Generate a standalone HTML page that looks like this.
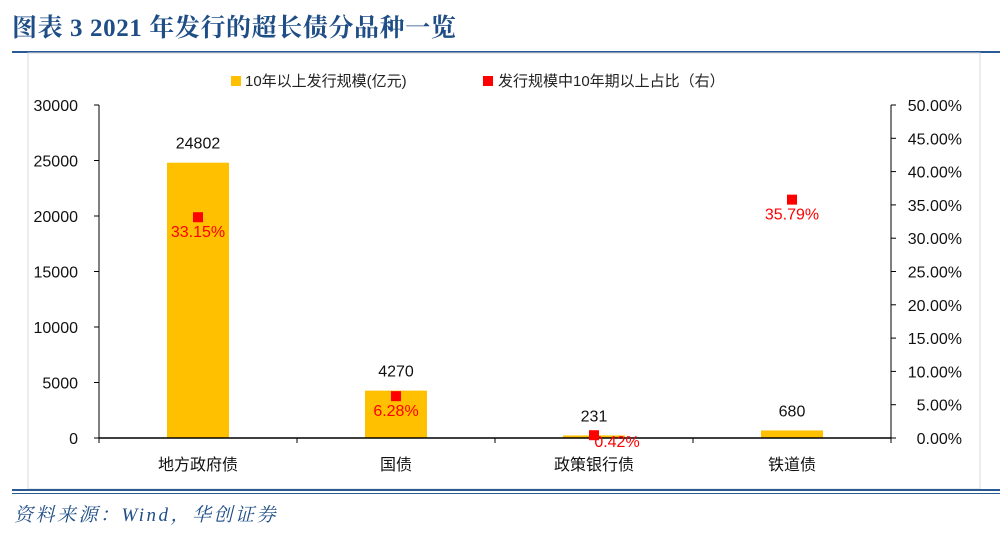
<!DOCTYPE html>
<html><head><meta charset="utf-8"><style>
body{margin:0;background:#fff;width:1000px;height:534px;overflow:hidden;font-family:"Liberation Sans","Noto Sans CJK SC",sans-serif;}
</style></head><body>
<svg width="1000" height="534" xmlns="http://www.w3.org/2000/svg">
<text x="12" y="36" font-family="Liberation Serif,'Noto Serif CJK SC',serif" font-weight="bold" font-size="25" letter-spacing="0.6" fill="#1f4e86">图表 3  2021 年发行的超长债分品种一览</text>
<line x1="12" y1="52" x2="1000" y2="52" stroke="#2a5a96" stroke-width="2"/>
<rect x="28" y="53" width="952" height="436" fill="none" stroke="#d9d9d9"/>
<line x1="12" y1="490" x2="1000" y2="490" stroke="#2a5a96" stroke-width="2"/>
<line x1="12" y1="493.5" x2="1000" y2="493.5" stroke="#2a5a96" stroke-width="1"/>
<text x="14" y="521" font-family="Liberation Serif,'Noto Serif CJK SC',serif" font-style="italic" font-size="19" letter-spacing="2.5" fill="#1f4e86">资料来源：Wind，华创证券</text>
<g>
<rect x="231" y="76" width="10" height="10" fill="#ffc000"/>
<text x="245" y="86" font-size="15" fill="#222">10年以上发行规模(亿元)</text>
<rect x="483" y="76" width="10" height="10" fill="#ff0000"/>
<text x="498" y="86" font-size="15" fill="#222">发行规模中10年期以上占比（右）</text>
</g>
<g id="plot"></g>
</svg>
<script>
const categories=["地方政府债","国债","政策银行债","铁道债"];
const volumes=[24802,4270,231,680];
const shares=[33.15,6.28,0.42,35.79];
const leftTicks=[0,5000,10000,15000,20000,25000,30000];
const rightTicks=[0,5,10,15,20,25,30,35,40,45,50];
const NS="http://www.w3.org/2000/svg";
const g=document.getElementById('plot');
const X0=99,X1=891,Y0=438,Y1=105;
const yL=v=>Y0-(v/30000)*(Y0-Y1);
const yR=v=>Y0-(v/50)*(Y0-Y1);
const step=(X1-X0)/categories.length;
const xc=i=>X0+step*(i+0.5);
function mk(t,a,txt){const e=document.createElementNS(NS,t);for(const k in a)e.setAttribute(k,a[k]);if(txt!==undefined)e.textContent=txt;g.appendChild(e);return e;}
let e;
e=mk('line',{x1:X0,y1:Y1,x2:X0,y2:Y0,stroke:'#000'});


e=mk('line',{x1:X1,y1:Y1,x2:X1,y2:Y0,stroke:'#000'});


leftTicks.forEach(t=>{
 e=mk('line',{x1:X0-5,y1:yL(t),x2:X0,y2:yL(t),stroke:'#000'});
 
 
 e=mk('text',{x:78,y:yL(t)+6,'font-size':16,'text-anchor':'end',fill:'#111'},String(t));
 
 
});
rightTicks.forEach(t=>{
 e=mk('line',{x1:X1,y1:yR(t),x2:X1+5,y2:yR(t),stroke:'#000'});
 
 
 e=mk('text',{x:962,y:yR(t)+6,'font-size':16,'text-anchor':'end',fill:'#111'},t.toFixed(2)+'%');
 
 
});
categories.forEach((c,i)=>{
 const v=volumes[i],cx=xc(i);
 e=mk('rect',{x:cx-31,y:yL(v),width:62,height:Y0-yL(v),fill:'#ffc000'});
 
 
 e=mk('text',{x:cx,y:yL(v)-14,'font-size':16,'text-anchor':'middle',fill:'#111'},String(v));
 
 
 e=mk('text',{x:cx,y:470,'font-size':16,'text-anchor':'middle',fill:'#111'},c);
 
 
 e=mk('line',{x1:X0+step*(i+1),y1:Y0,x2:X0+step*(i+1),y2:Y0+5,stroke:'#000'});
 
 
});
e=mk('line',{x1:X0,y1:Y0,x2:X1,y2:Y0,stroke:'#000','stroke-width':1.5});


e=mk('line',{x1:X0,y1:Y0,x2:X0,y2:Y0+5,stroke:'#000'});


categories.forEach((c,i)=>{
 const s=shares[i],cx=xc(i),y=yR(s);
 e=mk('rect',{x:cx-5,y:y-5,width:10,height:10,fill:'#ff0000'});
 
 
 e=mk('text',{x:cx+(s<2?23:0),y:y+(s<2?12:20),'font-size':16,'text-anchor':'middle',fill:'#ff0000'},s.toFixed(2)+'%');
 
 
});
</script>
</body></html>
